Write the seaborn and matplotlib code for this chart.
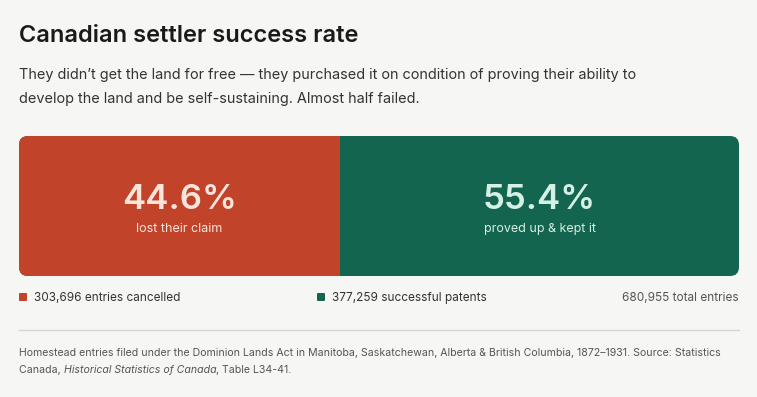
import matplotlib
matplotlib.use("Agg")
import matplotlib.pyplot as plt
import seaborn as sns
import pandas as pd
from matplotlib.patches import FancyBboxPatch
from matplotlib.transforms import IdentityTransform
from matplotlib.lines import Line2D

# data
outcomes = ["lost their claim", "proved up & kept it"]
shares = [44.6, 55.4]
entries = [303696, 377259]
legend_labels = ["entries cancelled", "successful patents"]
total_entries = 680955

colors = ["#C1432A", "#14654F"]
label_colors = ["#FBE4DC", "#D5F0E4"]
BG = "#F6F6F4"
W, H = 757, 397

sns.set_theme(style="white", rc={"axes.facecolor": BG, "figure.facecolor": BG})
plt.rcParams["font.family"] = ["Inter", "DejaVu Sans"]

fig = plt.figure(figsize=(W / 100, H / 100), dpi=100)


def fx(x):
    return x / W


def fy(y):
    return 1 - y / H


# the bar
bx0, by0, bx1, by1 = 19, 136, 739, 276
ax = fig.add_axes([fx(bx0), fy(by1), (bx1 - bx0) / W, (by1 - by0) / H])

df = pd.DataFrame({"row": ["all"] * 2, "outcome": outcomes, "share": shares})
df["cum"] = df["share"].cumsum()
df["mid"] = df["cum"] - df["share"] / 2

sns.barplot(data=df, x="cum", y="row", hue="outcome", hue_order=outcomes[::-1],
            palette=dict(zip(outcomes, colors)), orient="h", width=1, dodge=False,
            saturation=1, linewidth=0, legend=False, ax=ax)
ax.set_xlim(0, 100)
ax.set_ylim(0.5, -0.5)
ax.axis("off")

clip = FancyBboxPatch((bx0, H - by1), bx1 - bx0, by1 - by0,
                      boxstyle="round,pad=0,rounding_size=9",
                      transform=IdentityTransform(), facecolor="none", edgecolor="none")
for bar in ax.patches:
    bar.set_clip_path(clip)

tr = ax.get_xaxis_transform()
for _, r in df.iterrows():
    i = outcomes.index(r["outcome"])
    ax.text(r["mid"], (by1 - 209) / (by1 - by0), f"{r['share']:.1f}%", transform=tr,
            ha="center", va="baseline", fontsize=25, fontweight="semibold",
            color=label_colors[i])
    ax.text(r["mid"], (by1 - 232) / (by1 - by0), r["outcome"], transform=tr,
            ha="center", va="baseline", fontsize=9, color=label_colors[i])

# titles
fig.text(fx(19), fy(42), "Canadian settler success rate", fontsize=17,
         fontweight="semibold", color="#1a1a1a", va="baseline")
fig.text(fx(19), fy(79), "They didn\u2019t get the land for free \u2014 they purchased it on condition of proving their ability to",
         fontsize=10.4, color="#333333", va="baseline")
fig.text(fx(19), fy(103), "develop the land and be self-sustaining. Almost half failed.",
         fontsize=10.4, color="#333333", va="baseline")

# legend row
leg_x = [19, 317]
for i in range(2):
    fig.add_artist(FancyBboxPatch((leg_x[i], H - 301), 8, 8,
                                  boxstyle="round,pad=0,rounding_size=1",
                                  transform=IdentityTransform(),
                                  facecolor=colors[i], edgecolor="none"))
    fig.text(fx(leg_x[i] + 15), fy(301), f"{entries[i]:,} {legend_labels[i]}",
             fontsize=8.5, color="#333333", va="baseline")
fig.text(fx(739), fy(301), f"{total_entries:,} total entries", fontsize=8.5,
         color="#555555", va="baseline", ha="right")

fig.add_artist(Line2D([fx(19), fx(739)], [fy(330), fy(330)], color="#D6D6D3",
                      lw=1, transform=fig.transFigure))

# footnote
note_kw = dict(fontsize=7.6, color="#555555", va="baseline")
fig.text(fx(19), fy(356), "Homestead entries filed under the Dominion Lands Act in Manitoba, "
         "Saskatchewan, Alberta & British Columbia, 1872\u20131931. Source: Statistics", **note_kw)
fig.canvas.draw()
renderer = fig.canvas.get_renderer()
x = 19
for part, style in [("Canada, ", "normal"), ("Historical Statistics of Canada", "italic"),
                    (", Table L34-41.", "normal")]:
    t = fig.text(fx(x), fy(373), part, fontstyle=style, **note_kw)
    x += t.get_window_extent(renderer).width

fig.savefig("out.png", dpi=100, facecolor=BG)
